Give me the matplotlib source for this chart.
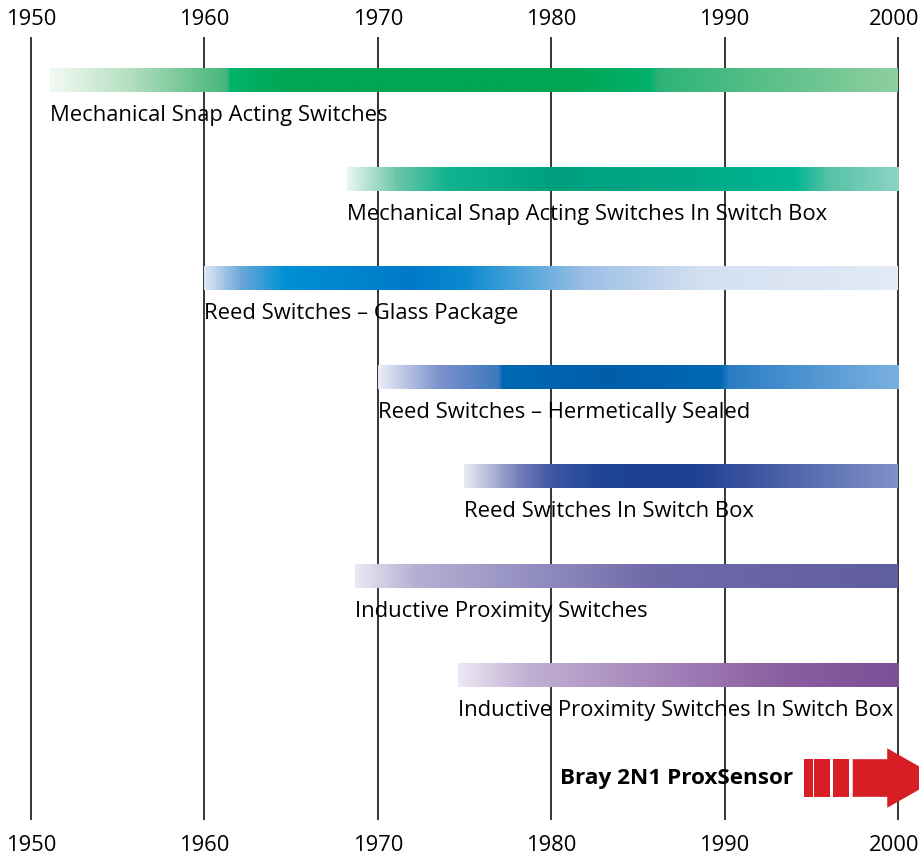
import numpy as np
import matplotlib.pyplot as plt
from matplotlib.colors import LinearSegmentedColormap
from matplotlib.patches import Polygon, Rectangle

plt.rcParams['font.family'] = ['Open Sans', 'DejaVu Sans']

# timeline
years = [1950, 1960, 1970, 1980, 1990, 2000]
end_year = 2000

labels = [
    "Mechanical Snap Acting Switches",
    "Mechanical Snap Acting Switches In Switch Box",
    "Reed Switches \u2013 Glass Package",
    "Reed Switches \u2013 Hermetically Sealed",
    "Reed Switches In Switch Box",
    "Inductive Proximity Switches",
    "Inductive Proximity Switches In Switch Box",
]
starts = [1951.1, 1968.2, 1960.0, 1970.0, 1975.0, 1968.7, 1974.6]

# colour stops (year, colour) for each bar's gradient
stops_snap = [(1951.1, '#f2f9f4'), (1955.5, '#b5e0c0'), (1961.2, '#45b77c'),
              (1961.4, '#00b36c'), (1965.0, '#00a651'), (1981.0, '#00a651'),
              (1985.8, '#00b16b'), (1986.2, '#2db377'), (2000.0, '#8ecf9f')]
stops_snap_box = [(1968.2, '#e8f5f0'), (1971.0, '#6cc6a6'), (1974.0, '#10b38f'),
                  (1980.0, '#00a07f'), (1987.0, '#00a784'), (1994.0, '#00b692'),
                  (1996.0, '#55c2a6'), (2000.0, '#8cd3c4')]
stops_glass = [(1960.0, '#dbe5f4'), (1962.0, '#6da7db'), (1964.6, '#0090d4'),
               (1972.0, '#0079c8'), (1975.0, '#0a8ad0'), (1982.0, '#9dc0e6'),
               (1988.7, '#d4e0f1'), (2000.0, '#e2eaf6')]
stops_hermetic = [(1970.0, '#eaeaf5'), (1973.5, '#7b92cc'), (1976.9, '#3d78bf'),
                  (1977.1, '#0069b4'), (1983.4, '#005ea9'), (1989.8, '#0069b4'),
                  (1990.2, '#2a7cc4'), (2000.0, '#7ab0e0')]
stops_reed_box = [(1975.0, '#e8e8f3'), (1978.3, '#6e78b8'), (1980.2, '#3c55a2'),
                  (1983.1, '#1f4397'), (1987.9, '#1c3f94'), (1990.0, '#2e4a9a'),
                  (2000.0, '#8290c8')]
stops_prox = [(1968.7, '#eae8f3'), (1972.1, '#b4b0d4'), (1980.6, '#8b86bb'),
              (1986.0, '#6f6aa8'), (2000.0, '#615e9e')]
stops_prox_box = [(1974.6, '#ede8f3'), (1978.5, '#c2b0d4'), (1987.0, '#a180b8'),
                  (1993.4, '#8a5e9f'), (2000.0, '#7d4f97')]
bar_stops = [stops_snap, stops_snap_box, stops_glass, stops_hermetic,
             stops_reed_box, stops_prox, stops_prox_box]

# Bray product arrow (years)
product = "Bray 2N1 ProxSensor"
arrow_stripes = [(1994.58, 1995.08), (1995.17, 1996.08), (1996.23, 1997.17)]
arrow_body = (1997.39, 1999.38)
arrow_tip = 2002.4
red = '#d81e25'

fig = plt.figure(figsize=(9.2, 8.55), dpi=100)
ax = fig.add_axes([0, 0, 1, 1])
ax.set_xlim(1948.212, 2001.27)
ax.set_ylim(7.817, -0.8125)
ax.axis('off')

# vertical year lines, labels top and bottom
ax.vlines(years, -0.44, 7.46, color='black', lw=1.1, zorder=1)
for y in years:
    if y == years[-1]:
        # last label sits against the right edge
        x, ha = 2001.22, 'right'
    else:
        x, ha = y, 'center'
    ax.text(x, -0.62, str(y), ha=ha, va='center', fontsize=15.8)
    ax.text(x, 7.72, str(y), ha=ha, va='center', fontsize=15.8)

bar_h = 0.235
grad = np.linspace(0, 1, 600).reshape(1, -1)
for i, (lab, s, stops) in enumerate(zip(labels, starts, bar_stops)):
    pos = [(yr - s) / (end_year - s) for yr, _ in stops]
    pos[0], pos[-1] = 0.0, 1.0
    cmap = LinearSegmentedColormap.from_list('bar%d' % i, list(zip(pos, [c for _, c in stops])))
    ax.imshow(grad, cmap=cmap, aspect='auto', interpolation='bilinear',
              extent=[s, end_year, i + bar_h / 2, i - bar_h / 2], zorder=2)
    ax.text(s, i + 0.41, lab, ha='left', va='baseline', fontsize=15.8, zorder=3)

# arrow
row = len(labels) + 0.04
for x0, x1 in arrow_stripes:
    ax.add_patch(Rectangle((x0, row - 0.19), x1 - x0, 0.38, color=red, lw=0, zorder=4))
ax.add_patch(Polygon([(arrow_body[0], row - 0.19), (arrow_body[1], row - 0.19),
                      (arrow_body[1], row - 0.30), (arrow_tip, row),
                      (arrow_body[1], row + 0.30), (arrow_body[1], row + 0.19),
                      (arrow_body[0], row + 0.19)], closed=True, color=red, lw=0, zorder=4))
ax.text(arrow_stripes[0][0] - 0.63, row, product, ha='right', va='center',
        fontsize=16.2, fontweight='bold', zorder=4)

fig.savefig('out.png', dpi=100)
